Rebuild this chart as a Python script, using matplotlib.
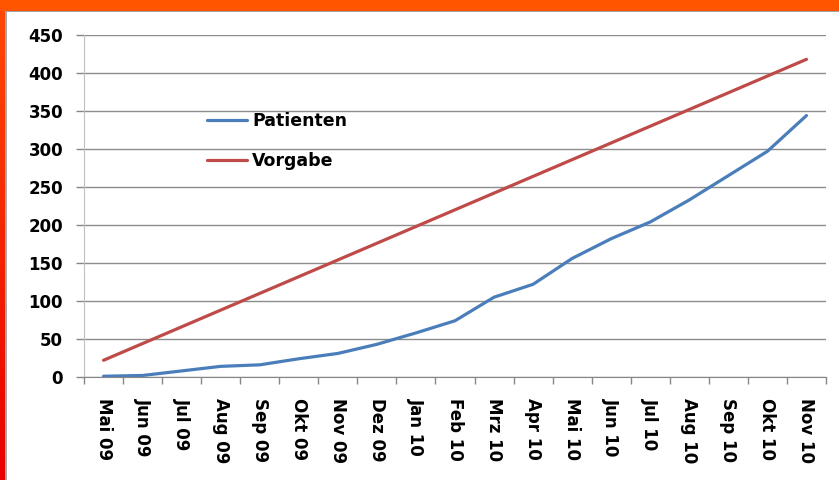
import numpy as np
import matplotlib
matplotlib.use("Agg")
import matplotlib.pyplot as plt
from matplotlib.patches import Rectangle

# Data
months = ["Mai 09", "Jun 09", "Jul 09", "Aug 09", "Sep 09", "Okt 09", "Nov 09",
          "Dez 09", "Jan 10", "Feb 10", "Mrz 10", "Apr 10", "Mai 10", "Jun 10",
          "Jul 10", "Aug 10", "Sep 10", "Okt 10", "Nov 10"]
patienten = [1, 2, 8, 14, 16, 24, 31, 43, 58, 74, 105, 122, 156, 182, 204,
             233, 265, 297, 344]
vorgabe = [22, 44, 66, 88, 110, 132, 154, 176, 198, 220, 242, 264, 286, 308,
           330, 352, 374, 396, 418]
y_ticks = [0, 50, 100, 150, 200, 250, 300, 350, 400, 450]

W, H = 839, 480
fig = plt.figure(figsize=(W / 100, H / 100), dpi=100, facecolor="white")

# Slide background: orange band on top, red strip on the left
bg = fig.add_axes([0, 0, 1, 1], zorder=-5)
bg.set_xlim(0, W)
bg.set_ylim(H, 0)
bg.axis("off")
grad = np.linspace(0, 1, 256).reshape(-1, 1)
cmap = matplotlib.colors.LinearSegmentedColormap.from_list("strip", ["#ff4a05", "#e80000"])
bg.imshow(grad, cmap=cmap, extent=[0, 5, H, 0], aspect="auto")
bg.add_patch(Rectangle((0, 0), W, 10.5, color="#ff5500", lw=0))
bg.add_patch(Rectangle((5, 10.5), W - 5, 1.5, color="#a0a0a0", lw=0))
bg.add_patch(Rectangle((5, 10.5), 2, H, color="#a8a8a8", lw=0))

# Chart
ax = fig.add_axes([84 / W, 1 - 377 / H, 742 / W, 342 / H])
x = np.arange(len(months))
ax.plot(x, patienten, color="#4a7ebb", lw=2.3, label="Patienten", solid_capstyle="round")
ax.plot(x, vorgabe, color="#be4b48", lw=2.3, label="Vorgabe", solid_capstyle="round")

ax.set_xlim(-0.5, len(months) - 0.5)
ax.set_ylim(0, 450)
ax.set_yticks(y_ticks)
ax.set_yticklabels([str(v) for v in y_ticks], fontsize=12, fontweight="bold")
ax.set_xticks(x)
ax.set_xticklabels(months, rotation=270, fontsize=12, fontweight="bold")
ax.set_xticks(np.arange(-0.5, len(months)), minor=True)
ax.tick_params(axis="x", which="major", length=0, pad=15)
ax.tick_params(axis="x", which="minor", length=5, width=1, color="#868686")
ax.tick_params(axis="y", length=6, width=1, color="#868686", pad=9)

ax.grid(axis="y", color="#8c8c8c", lw=1)
ax.set_axisbelow(True)
for side in ["top", "right"]:
    ax.spines[side].set_visible(False)
ax.spines["left"].set_color("#c0c0c0")
ax.spines["bottom"].set_color("#868686")
ax.spines["bottom"].set_zorder(3)

fig.legend(loc="upper left", bbox_to_anchor=(207 / W, 1 - 112 / H),
           frameon=False, borderpad=0, borderaxespad=0, handlelength=2.3,
           handletextpad=0.3, labelspacing=1.25,
           prop={"size": 12.5, "weight": "bold"})

fig.savefig("out.png", dpi=100, facecolor=fig.get_facecolor())
